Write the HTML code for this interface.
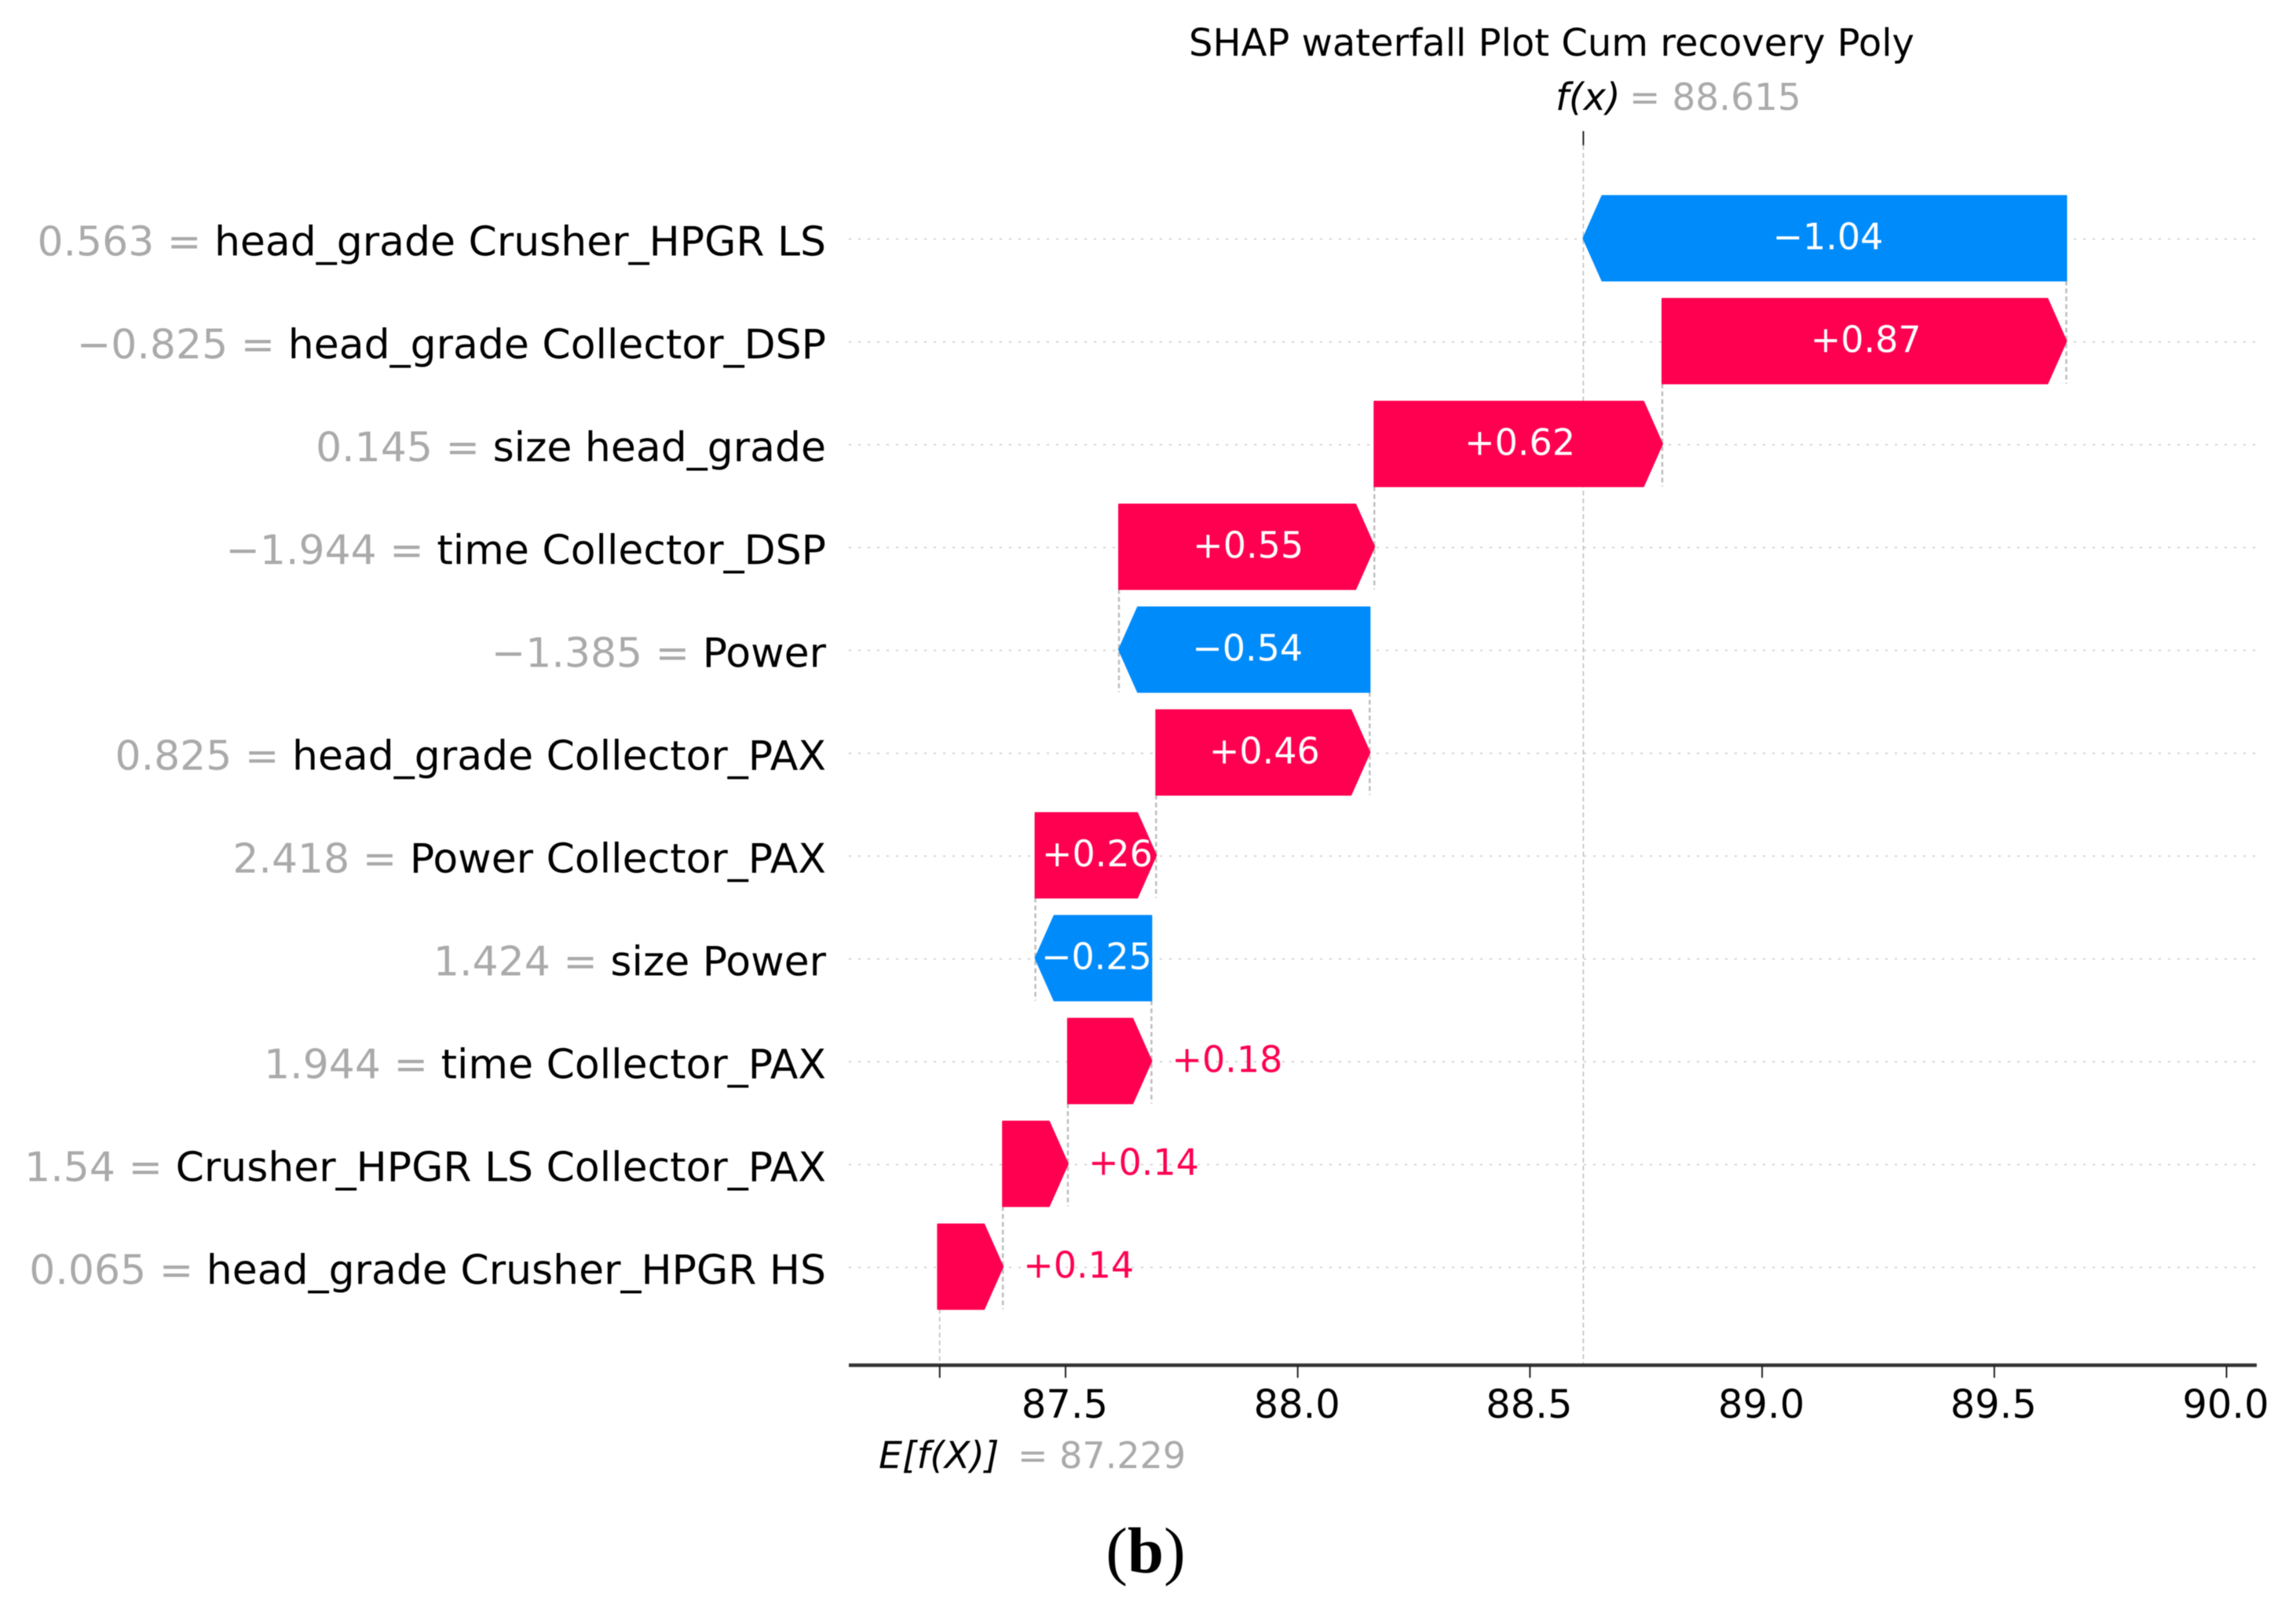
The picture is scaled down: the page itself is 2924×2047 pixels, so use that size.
<!DOCTYPE html>
<html lang="en">
<head>
<meta charset="utf-8">
<title>SHAP waterfall Plot Cum recovery Poly</title>
<style>
html,body{margin:0;padding:0;background:#fff;}
svg{display:block;font-family:"DejaVu Sans","Liberation Sans",sans-serif;filter:blur(0.6px);}
</style>
</head>
<body>
<svg id="chart" xmlns="http://www.w3.org/2000/svg" width="2924" height="2047" viewBox="0 0 2924 2047">
  <rect x="0" y="0" width="2924" height="2047" fill="#ffffff"/>
  <text x="1976" y="71" font-size="48" text-anchor="middle" fill="#000">SHAP waterfall Plot Cum recovery Poly</text>
  <text x="1459" y="2003" font-size="83" text-anchor="middle" fill="#000" style="font-family:'Liberation Serif',serif">(<tspan font-weight="bold">b</tspan>)</text>
</svg>
<script>
const featureValues = ["0.563", "\u22120.825", "0.145", "\u22121.944", "\u22121.385", "0.825", "2.418", "1.424", "1.944", "1.54", "0.065"];
const featureNames = ["head_grade Crusher_HPGR LS", "head_grade Collector_DSP", "size head_grade", "time Collector_DSP", "Power", "head_grade Collector_PAX", "Power Collector_PAX", "size Power", "time Collector_PAX", "Crusher_HPGR LS Collector_PAX", "head_grade Crusher_HPGR HS"];
const shapValues = [-1.04, 0.87, 0.62, 0.55, -0.54, 0.46, 0.26, -0.25, 0.18, 0.14, 0.14];
const fxValue = 88.615;
const baseValue = 87.229;
const xTicks = [87.5, 88.0, 88.5, 89.0, 89.5, 90.0];

const svg = document.getElementById('chart');
const NS = 'http://www.w3.org/2000/svg';
const RED = '#ff0051', BLUE = '#008bfb', GREY = '#aaaaaa';
const AXIS_Y = 1739, AXIS_L = 1081, AXIS_R = 2874;
const BAR_H = 108, HEAD = 24;

function xScale(v) { return 1357 + (v - 87.5) * 591.4; }
function yScale(i) { return 303.5 + i * 131; }
function fmt(v) { return (v < 0 ? '\u2212' : '+') + Math.abs(v).toFixed(2); }

function make(tag, attrs, text) {
  const el = document.createElementNS(NS, tag);
  for (const k in attrs) el.setAttribute(k, attrs[k]);
  if (text !== undefined) el.textContent = text;
  svg.appendChild(el);
  return el;
}

/* grid lines */
featureNames.forEach((name, i) => {
  const g = make('line', { x1: AXIS_L, x2: 2872, y1: yScale(i) + 1, y2: yScale(i) + 1, stroke: '#d4d4d4', 'stroke-width': 2, 'stroke-dasharray': '3 9' });
  
  
});

/* f(x) and E[f(X)] guides */
const fxGuide = make('line', { x1: xScale(fxValue), x2: xScale(fxValue), y1: 185, y2: AXIS_Y, stroke: '#bdbdbd', 'stroke-width': 1.5, 'stroke-dasharray': '6 4' });


const baseGuide = make('line', { x1: xScale(baseValue), x2: xScale(baseValue), y1: yScale(shapValues.length - 1) + BAR_H / 2, y2: AXIS_Y, stroke: '#bdbdbd', 'stroke-width': 1.5, 'stroke-dasharray': '6 4' });


const fxTick = make('line', { x1: xScale(fxValue), x2: xScale(fxValue), y1: 167, y2: 185, stroke: '#222', 'stroke-width': 2 });



/* walk from f(x) down through the features */
let cursor = fxValue;
const spans = shapValues.map(v => {
  const end = cursor;       /* the value at this row's top boundary */
  const other = end - v;    /* the value carried to the next row */
  cursor = other;
  return { v: v, shared: end, other: other, lo: Math.min(end, other), hi: Math.max(end, other) };
});

/* connectors */
spans.forEach((s, i) => {
  if (i === 0) return;
  const c = make('line', { x1: xScale(s.shared), x2: xScale(s.shared), y1: yScale(i - 1) + BAR_H / 2, y2: yScale(i) + BAR_H / 2, stroke: '#bdbdbd', 'stroke-width': 2.5, 'stroke-dasharray': '6 4' });
  
  
});

/* bars */
spans.forEach((s, i) => {
  const l = xScale(s.lo), r = xScale(s.hi), y = yScale(i), t = y - BAR_H / 2, b = y + BAR_H / 2;
  const head = Math.min(HEAD, r - l);
  const pts = s.v >= 0
    ? [[l, t], [r - head, t], [r, y], [r - head, b], [l, b]]
    : [[r, t], [l + head, t], [l, y], [l + head, b], [r, b]];
  const color = s.v >= 0 ? RED : BLUE;
  const bar = make('polygon', { points: pts.map(p => p.join(',')).join(' '), fill: color, stroke: color, 'stroke-width': 2, 'stroke-linejoin': 'round' });
  
  

  const inside = Math.abs(s.v) > 0.2;
  const attrs = inside
    ? { x: (l + r) / 2 + (s.v >= 0 ? 2 : 4), 'text-anchor': 'middle', fill: '#fff' }
    : { x: r + 26, 'text-anchor': 'start', fill: color };
  attrs.y = y + 14;
  attrs['font-size'] = 46;
  const lab = make('text', attrs, fmt(s.v));
  
  
});

/* feature labels */
featureNames.forEach((name, i) => {
  const t = make('text', { x: 1052, y: yScale(i) + 22, 'font-size': 52, 'text-anchor': 'end', fill: '#000' });
  
  
  const a = document.createElementNS(NS, 'tspan');
  a.setAttribute('fill', GREY);
  a.textContent = featureValues[i] + ' = ';
  t.appendChild(a);
  const b = document.createElementNS(NS, 'tspan');
  b.textContent = name;
  t.appendChild(b);
});

/* x axis */
const axis = make('line', { x1: AXIS_L, x2: AXIS_R, y1: AXIS_Y, y2: AXIS_Y, stroke: '#333', 'stroke-width': 4.5 });


xTicks.forEach(v => {
  const tk = make('line', { x1: xScale(v), x2: xScale(v), y1: AXIS_Y, y2: 1755, stroke: '#222', 'stroke-width': 2 });
  
  
  const tl = make('text', { x: xScale(v) - 1, y: 1806, 'font-size': 49.5, 'text-anchor': 'middle', fill: '#000' }, v.toFixed(1));
  
  
});
const baseTick = make('line', { x1: xScale(baseValue), x2: xScale(baseValue), y1: AXIS_Y, y2: 1755, stroke: '#222', 'stroke-width': 2 });



/* f(x) annotation */
const fxName = make('text', { x: 1981, y: 140, 'font-size': 48, 'font-style': 'italic', fill: '#000' }, 'f(x)');


const fxVal = make('text', { x: 2075, y: 140, 'font-size': 47, fill: GREY }, '= ' + fxValue.toFixed(3));



/* E[f(X)] annotation */
const baseName = make('text', { x: 1119, y: 1870, 'font-size': 47.5, 'font-style': 'italic', fill: '#000' }, 'E[f(X)]');


const baseVal = make('text', { x: 1296, y: 1870, 'font-size': 46, fill: GREY }, '= ' + baseValue.toFixed(3));


</script>
</body>
</html>
